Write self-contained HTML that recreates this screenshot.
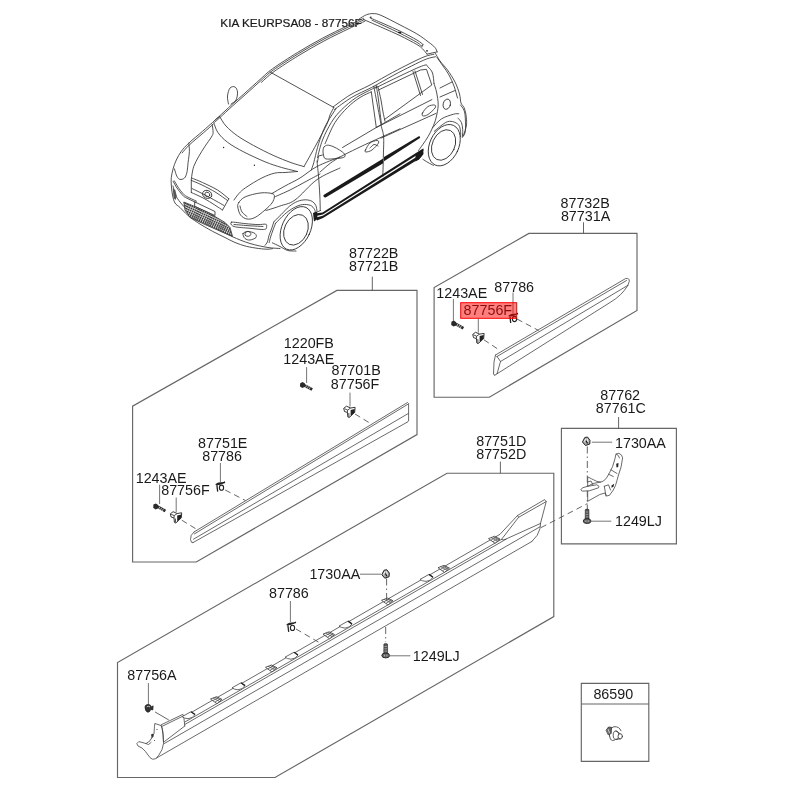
<!DOCTYPE html>
<html><head><meta charset="utf-8">
<style>
html,body{margin:0;padding:0;background:#fff;width:800px;height:800px;overflow:hidden}
svg{display:block;will-change:transform}
text{font-family:"Liberation Sans",sans-serif;font-size:14.3px;fill:#1a1a1a}
.b{fill:none;stroke:#666;stroke-width:1.15}
.l{fill:none;stroke:#555;stroke-width:0.9}
.ld{fill:none;stroke:#666;stroke-width:0.9}
.d{fill:none;stroke:#555;stroke-width:0.9;stroke-dasharray:6 4}
.dd{fill:none;stroke:#555;stroke-width:0.9;stroke-dasharray:7 3 1.5 3}
.p{fill:none;stroke:#444;stroke-width:0.8;stroke-linejoin:round;stroke-linecap:round}
.c{fill:none;stroke:#333;stroke-width:0.8;stroke-linejoin:round;stroke-linecap:round}
</style></head>
<body>
<svg width="800" height="800" viewBox="0 0 800 800">
<!-- title -->
<text x="220.3" y="26.8" style="font-size:10.6px;fill:#1a1a1a;stroke:#1a1a1a;stroke-width:0.2" textLength="141.5" lengthAdjust="spacingAndGlyphs" id="title">KIA KEURPSA08 - 87756F</text>

<!-- BOX 1: 87732B -->
<path class="b" d="M434.1,397.2 L434.1,287.6 L528.9,233.4 L637,233.4 L637,310.5 L489.3,397.2 Z"/>
<path class="l" d="M583.5,222.3 V233.4"/>
<text x="560.5" y="207.6">87732B</text>
<text x="560.9" y="220.6">87731A</text>

<!-- BOX 2: 87722B -->
<path class="b" d="M132.6,562 L132.6,406.2 L336.9,290.4 L417,290.4 L417,434.6 L196.3,562 Z"/>
<path class="l" d="M372.3,276.6 V290.4"/>
<text x="349.1" y="257.9">87722B</text>
<text x="349.1" y="271.2">87721B</text>

<!-- BOX 3: 87762 -->
<path class="b" d="M561.4,428.3 H676.4 V543.8 H561.4 Z"/>
<path class="l" d="M618.6,417 V428.3"/>
<text x="600.3" y="400">87762</text>
<text x="595.8" y="412.8">87761C</text>

<!-- BOX 4: 87751D -->
<path class="b" d="M117.5,777.5 L117.5,662.5 L447,473.2 L553.8,473.2 L553.8,616.6 L275,777.5 Z"/>
<path class="l" d="M500.4,461.6 V473.2"/>
<text x="476.2" y="445.7">87751D</text>
<text x="476.2" y="459.4">87752D</text>

<!-- BOX 5: 86590 -->
<path class="b" d="M581.3,683.4 H648.8 V761.3 H581.3 Z M581.3,704 H648.8"/>
<text x="593.4" y="698.5">86590</text>

<!-- labels box 1 -->
<text x="436.3" y="298.1">1243AE</text>
<text x="494.3" y="291.8">87786</text>
<!-- labels box 2 -->
<text x="283.8" y="348.2">1220FB</text>
<text x="283.3" y="363.7">1243AE</text>
<text x="331.4" y="375.1">87701B</text>
<text x="330.8" y="389.4">87756F</text>
<text x="198.1" y="447.7">87751E</text>
<text x="202.2" y="461.2">87786</text>
<text x="135.7" y="482.8">1243AE</text>
<text x="161.2" y="495.3">87756F</text>
<!-- labels box 3 -->
<text x="615" y="447.7">1730AA</text>
<text x="615" y="525.9">1249LJ</text>
<!-- labels box 4 -->
<text x="309.4" y="579.4">1730AA</text>
<text x="269" y="598.4">87786</text>
<text x="412.8" y="661">1249LJ</text>
<text x="127.3" y="679.8">87756A</text>


<defs>
<pattern id="mesh" width="2.4" height="2.4" patternUnits="userSpaceOnUse" patternTransform="rotate(25)"><rect width="2.4" height="2.4" fill="#ddd"/><path d="M0,0 L2.4,2.4 M2.4,0 L0,2.4" stroke="#333" stroke-width="0.75"/></pattern>
<g id="clip">
  <path d="M-0.5,1.8 L2.3,-0.3 L6.4,1.5 L10.9,0.8 L10.5,5.8 L8,8.3 L5,11 L3.6,10.4 L3.2,6 L0.3,5 Z" fill="#fff" stroke="#222" stroke-width="0.9" stroke-linejoin="round"/>
  <path d="M6.4,3.4 L10.5,2.4 L10.4,5.8 L8,8.3 L6.4,9.2 Z" fill="#222"/>
  <path d="M0.3,2.2 L3.4,3.6 L6.4,1.5 M3.4,3.6 L3.2,6 M4.6,6.5 L4.8,10.5" fill="none" stroke="#222" stroke-width="0.8"/>
</g>
<g id="clip2">
  <path d="M0.2,2.8 L3,1.3 L8,0.8 L9.6,0 L9.9,1.6 L4,3.6 L0.5,3.9 Z" fill="#222"/>
  <path d="M1.6,3.8 L2.4,10.4" stroke="#222" stroke-width="1.3" fill="none"/>
  <ellipse cx="6.2" cy="6.4" rx="2.1" ry="2.6" fill="none" stroke="#222" stroke-width="1.1"/>
</g>
<g id="bolt">
  <path d="M0.2,1.2 L2.6,0 L5,1.6 L5,4.8 L2.4,6 L0,4.4 Z" fill="#2a2a2a"/>
  <path d="M4.6,3.4 L12.2,7.6" stroke="#2a2a2a" stroke-width="2.8" fill="none"/>
  <path d="M6.6,3.4 L5.6,5.4 M8.4,4.4 L7.4,6.4 M10.2,5.4 L9.2,7.4" stroke="#fff" stroke-width="0.7" fill="none"/>
</g>
<g id="vbolt">
  <path d="M-1.8,-1.2 Q0,-2.2 1.8,-1.2 L1.9,8.6 L-1.9,8.6 Z" fill="#555" stroke="#222" stroke-width="0.6"/>
  <path d="M-1.3,1.2 H1.3 M-1.3,3.6 H1.3 M-1.3,6 H1.3" stroke="#bbb" stroke-width="0.7"/>
  <ellipse cx="0" cy="10.3" rx="3.9" ry="2.4" fill="#666" stroke="#222" stroke-width="0.9"/>
  <path d="M-1.2,9.5 L-1.2,11.2 M1.2,9.5 L1.2,11.2" stroke="#ddd" stroke-width="0.6"/>
</g>
<g id="nut">
  <path d="M-3.8,0.7 L-1.5,-3.8 L1.2,-4.3 L3.7,-1 L3.5,2.7 L-0.8,4.2 Z" fill="#aaa" stroke="#222" stroke-width="1" stroke-linejoin="round"/>
  <path d="M-2.2,0.5 L-0.6,-2.4 M0.8,-2.6 L1.8,0.8" stroke="#fff" stroke-width="0.9"/>
  <path d="M-0.2,-0.5 L1.2,2.2" stroke="#111" stroke-width="1.1"/>
</g>
<g id="mush">
  <path d="M-3.8,-1.5 Q-3.5,-4 -0.5,-4 Q2.2,-3.8 2.5,-1.5 L4.3,-2.5 L4,1.5 L2,1 Q1,3.8 -1,3.8 Q-3.8,3 -3.8,-1.5 Z" fill="#333" stroke="#222" stroke-width="0.8"/>
  <path d="M-2,-1.5 Q-0.5,-2.8 1.2,-1.5" fill="none" stroke="#fff" stroke-width="0.7"/>
</g>
<g id="tabr">
  <path d="M-5.5,0.8 L0.5,-1.5 L6,1.2 L1,5.5 Z" fill="#fff" stroke="#333" stroke-width="0.8" stroke-linejoin="round"/>
  <path d="M-3,-0.2 L3.5,3.2 M-0.8,-0.9 L5,2 M-3.2,2.4 L2.8,-0.8 M-1,3.8 L4.6,0.6" stroke="#444" stroke-width="0.7"/>
</g>
<g id="tabo">
  <path d="M-7,2.9 L2,-2.1 L6,0.7 Q4,4.6 -1,4.9 Q-5,4.6 -7,2.9 Z" fill="#fff" stroke="#444" stroke-width="0.8" stroke-linejoin="round"/>
  <path d="M2,-2.1 L6,0.7" stroke="#222" stroke-width="1.4"/>
</g>
</defs>

<!--CAR-START-->
<g class="car" fill="none" stroke="#333" stroke-width="0.85" stroke-linejoin="round" stroke-linecap="round">
<path d="M214.0,121.0 C214.8,120.2 216.0,119.2 219.0,116.5 C222.0,113.8 227.7,108.4 232.0,104.5 C236.3,100.6 240.3,97.2 245.0,93.0 C249.7,88.8 255.4,83.5 260.0,79.5 C264.6,75.5 266.2,73.3 272.5,68.8 C278.8,64.3 289.2,57.6 297.5,52.5 C305.8,47.4 314.2,42.7 322.5,38.2 C330.8,33.8 340.7,29.1 347.5,25.8 C354.3,22.5 360.8,19.6 363.5,18.3"/>
<path d="M214.7,122.3 C215.5,121.5 216.7,120.5 219.7,117.8 C222.7,115.0 228.4,109.7 232.7,105.8 C237.0,101.9 241.0,98.5 245.7,94.3 C250.4,90.1 256.1,84.8 260.7,80.8 C265.3,76.8 266.9,74.6 273.2,70.1 C279.4,65.6 289.9,58.9 298.2,53.8 C306.5,48.7 314.9,44.0 323.2,39.5 C331.5,35.0 341.4,30.4 348.2,27.1 C355.0,23.8 361.5,20.9 364.2,19.6"/>
<path d="M261.5,82.3 C263.6,80.5 267.8,76.1 274.0,71.6 C280.2,67.1 290.7,60.4 299.0,55.3 C307.3,50.2 315.7,45.5 324.0,41.0 C332.3,36.5 342.2,31.9 349.0,28.6 C355.8,25.3 362.3,22.4 365.0,21.1"/>
<path d="M219.5,116.3 C220.6,117.9 223.0,122.8 226.0,126.0 C229.0,129.2 232.8,132.6 237.4,135.8 C242.0,139.1 247.6,142.2 253.6,145.5 C259.6,148.8 266.9,152.5 273.1,155.3 C279.3,158.2 285.9,160.7 291.0,162.6 C296.1,164.5 301.8,165.9 304.0,166.6"/>
<path d="M213.8,122.8 C214.5,124.4 215.6,129.2 217.9,132.5 C220.2,135.8 223.3,139.1 227.6,142.3 C231.9,145.6 237.7,148.8 243.9,152.0 C250.1,155.2 258.8,159.2 265.0,161.8 C271.2,164.4 276.4,165.9 281.3,167.4 C286.2,168.9 291.6,170.0 294.3,170.7 C297.0,171.4 297.0,171.4 297.5,171.5"/>
<path d="M333.8,107.5 C333.2,108.8 331.2,112.2 330.0,115.0 C328.8,117.8 329.1,119.4 326.8,124.4 C324.5,129.4 319.8,138.0 316.0,145.0 C312.2,152.0 306.0,163.0 304.0,166.6"/>
<path d="M336.0,108.5 C334.6,110.8 329.8,118.0 327.5,122.0 C325.2,126.0 324.2,128.2 322.5,132.5 C320.8,136.8 318.9,142.5 317.5,147.5 C316.1,152.5 314.8,158.8 313.8,162.5 C312.8,166.2 311.7,168.8 311.3,170.0"/>
<path d="M333.1,106.9 C335.9,104.9 343.9,98.7 350.0,95.0 C356.1,91.3 362.9,88.8 370.0,85.0 C377.1,81.2 385.8,76.1 392.5,72.5 C399.2,68.9 404.6,66.2 410.0,63.5 C415.4,60.8 421.0,58.0 425.0,56.5 C429.0,55.0 432.5,54.6 434.0,54.2"/>
<path d="M334.6,109.4 C337.4,107.4 345.4,101.2 351.5,97.5 C357.6,93.8 364.4,91.2 371.5,87.5 C378.6,83.8 387.3,78.6 394.0,75.0 C400.7,71.4 406.1,68.7 411.5,66.0 C416.9,63.3 422.5,60.5 426.5,59.0 C430.5,57.5 434.0,57.1 435.5,56.7"/>
<path d="M359.5,18.7 C360.6,18.1 364.1,15.7 366.3,14.8 C368.6,14.0 370.6,13.5 373.0,13.6 C375.4,13.7 376.4,13.4 380.9,15.3 C385.4,17.2 394.0,21.8 400.0,24.9 C406.0,28.0 412.2,31.1 416.9,33.9 C421.6,36.7 425.1,39.5 428.1,41.8 C431.1,44.0 433.4,45.7 434.9,47.4 C436.4,49.1 436.7,51.1 437.1,51.9"/>
<path d="M370.0,17.8 C372.5,18.9 380.0,22.1 385.0,24.3 C390.0,26.5 394.7,28.5 400.0,31.1 C405.3,33.7 413.1,37.8 416.9,40.0 C420.7,42.2 422.0,43.8 423.0,44.5"/>
<path d="M372.0,20.2 C374.3,21.3 381.3,24.5 386.0,26.7 C390.7,28.9 394.9,30.7 400.0,33.3 C405.1,35.9 413.2,40.1 416.9,42.3 C420.6,44.5 421.1,45.8 422.0,46.5"/>
<path d="M363.5,19.5 C366.8,20.9 377.0,25.3 383.1,28.0 C389.2,30.7 394.4,32.9 400.0,35.6 C405.6,38.4 413.1,42.3 416.9,44.5 C420.6,46.7 420.8,47.2 422.5,48.8 C424.2,50.4 426.2,53.2 427.0,54.1"/>
<path d="M435.5,53.5 C436.2,54.8 438.0,58.2 440.0,61.0 C442.0,63.8 445.0,66.5 447.5,70.0 C450.0,73.5 453.0,78.0 455.0,82.0 C457.0,86.0 458.5,90.5 459.5,94.0 C460.5,97.5 460.2,100.8 461.0,103.0 C461.8,105.2 463.2,105.5 464.0,107.5 C464.8,109.5 465.6,112.1 466.0,115.0 C466.4,117.9 466.9,121.6 466.5,125.0 C466.1,128.4 464.0,133.7 463.5,135.4"/>
<path d="M437.0,57.5 C438.0,58.9 441.0,63.1 443.0,66.0 C445.0,68.9 447.2,71.7 449.0,75.0 C450.8,78.3 452.6,82.2 454.0,86.0 C455.4,89.8 456.9,96.0 457.5,98.0"/>
<path d="M460.5,105.0 C461.1,105.9 463.2,108.1 464.0,110.3 C464.8,112.5 465.1,114.6 465.3,118.1 C465.5,121.6 465.7,128.2 465.3,131.3 C464.9,134.4 463.5,135.6 463.1,136.5"/>
<path d="M212.2,124.4 C212.3,125.8 213.2,130.4 213.1,132.5 C213.0,134.6 212.8,134.7 211.4,137.0 C210.1,139.3 207.1,143.1 205.0,146.3 C202.9,149.5 200.7,153.0 198.8,156.3 C196.9,159.6 195.0,163.2 193.8,166.3 C192.7,169.4 192.3,172.7 191.9,175.0 C191.5,177.3 191.4,179.2 191.3,180.0"/>
<path d="M219.0,117.0 C217.9,117.9 215.2,120.1 212.5,122.5 C209.8,124.9 206.4,127.9 202.5,131.3 C198.6,134.7 192.3,139.8 188.8,143.1 C185.3,146.4 183.4,148.5 181.3,151.3 C179.2,154.1 177.7,157.1 176.3,160.0 C174.9,162.9 173.9,165.9 173.1,168.8 C172.3,171.7 171.6,174.8 171.3,177.5 C171.0,180.2 171.1,182.1 171.3,185.0 C171.5,187.9 171.9,192.0 172.5,195.0 C173.1,198.0 173.8,200.9 175.0,203.0 C176.2,205.1 177.9,205.5 180.0,207.5 C182.1,209.5 184.6,212.5 187.5,215.0 C190.4,217.5 193.3,219.8 197.5,222.5 C201.7,225.2 207.9,228.8 212.5,231.3 C217.1,233.8 221.2,235.6 225.0,237.5 C228.8,239.4 231.4,241.0 235.0,242.5 C238.6,244.0 242.3,245.3 246.3,246.3 C250.3,247.3 255.2,248.0 258.8,248.5 C262.4,249.0 265.7,249.2 268.0,249.2 C270.3,249.2 271.8,248.7 272.5,248.6"/>
<path d="M213.3,124.1 C211.6,125.6 207.2,129.5 203.3,132.9 C199.4,136.3 193.1,141.4 189.6,144.7 C186.1,148.0 183.4,151.5 182.1,152.9"/>
<path d="M188.8,143.1 C188.9,144.5 189.5,148.1 189.4,151.3 C189.3,154.5 188.5,159.0 188.1,162.5 C187.7,166.0 187.5,169.9 186.9,172.5 C186.3,175.1 185.6,176.9 184.4,178.1 C183.2,179.2 181.2,179.7 180.0,179.4 C178.8,179.1 177.8,178.1 176.9,176.3 C176.0,174.5 174.8,170.1 174.4,168.8"/>
<path d="M173.0,186.0 C173.5,187.7 174.4,192.8 176.0,196.0 C177.6,199.2 180.2,202.3 182.5,205.0 C184.8,207.7 187.1,209.7 190.0,212.0 C192.9,214.3 195.8,216.3 200.0,219.0 C204.2,221.7 209.7,225.1 215.0,228.0 C220.3,230.9 226.2,233.9 232.0,236.5 C237.8,239.1 244.0,241.7 250.0,243.5 C256.0,245.3 263.0,246.7 268.0,247.5 C273.0,248.3 278.0,248.3 280.0,248.5"/>
<path d="M191.9,178.1 C193.7,178.8 198.2,180.5 202.5,182.5 C206.8,184.5 213.1,187.3 217.5,190.0 C221.9,192.7 226.9,197.3 228.8,198.8"/>
<path d="M191.5,180.5 C193.2,181.2 197.9,183.0 202.0,185.0 C206.1,187.0 211.8,189.9 216.0,192.5 C220.2,195.1 225.6,199.2 227.5,200.5"/>
<path d="M191.3,192.5 C193.6,193.6 199.8,196.1 205.0,199.0 C210.2,201.9 219.6,208.2 222.5,210.0"/>
<path d="M192.0,188.5 C194.3,189.7 200.7,192.7 206.0,195.5 C211.3,198.3 221.0,203.8 224.0,205.5"/>
<path d="M173.1,181.3 C173.8,182.4 175.5,185.8 177.0,188.0 C178.5,190.2 180.5,192.8 181.9,194.4 C183.3,196.0 183.2,196.2 185.6,197.5 C187.9,198.8 194.3,201.7 196.0,202.5"/>
<path d="M174.3,180.8 C175.0,181.9 176.8,185.2 178.2,187.3 C179.6,189.4 181.4,191.8 182.8,193.3 C184.2,194.8 184.2,195.1 186.5,196.4 C188.8,197.7 194.8,200.4 196.5,201.2"/>
<path d="M238.8,202.5 C239.8,200.9 241.7,198.8 244.0,197.5 C246.3,196.2 249.5,195.3 252.5,194.5 C255.5,193.7 258.8,193.0 262.0,192.8 C265.2,192.6 269.9,192.9 272.0,193.5 C274.1,194.1 274.4,194.9 274.4,196.5 C274.4,198.1 273.6,200.8 272.0,203.0 C270.4,205.2 267.8,207.6 265.0,210.0 C262.2,212.4 258.0,216.0 255.0,217.5 C252.0,219.0 249.4,219.4 247.0,219.0 C244.6,218.6 242.0,217.0 240.5,215.0 C239.0,213.0 238.1,209.1 237.8,207.0 C237.5,204.9 237.8,204.1 238.8,202.5 Z"/>
<path d="M240.0,206.0 C240.3,207.0 240.8,210.2 242.0,212.0 C243.2,213.8 246.2,215.8 247.0,216.5"/>
<path d="M243.0,233.5 C243.5,232.3 246.0,231.5 248.0,231.5 C250.0,231.5 253.7,232.5 255.0,233.5 C256.3,234.5 256.8,236.4 256.0,237.5 C255.2,238.6 251.8,239.8 250.0,240.0 C248.2,240.2 246.2,239.6 245.0,238.5 C243.8,237.4 242.5,234.7 243.0,233.5 Z"/>
<path d="M245.5,235.5 A3,2.5 0 1,1 245.6,235.6 Z"/>
<path d="M231.5,222.2 C233.3,221.7 240.6,223.2 245.0,223.6 C249.4,224.0 254.6,224.5 258.0,224.6 C261.4,224.7 264.1,223.9 265.5,224.2 C266.9,224.5 266.8,225.3 266.6,226.2 C266.4,227.1 267.3,229.1 264.5,229.4 C261.7,229.8 255.1,228.8 250.0,228.3 C244.9,227.8 237.1,227.5 234.0,226.5 C230.9,225.5 229.7,222.7 231.5,222.2 Z"/>
<path d="M234.0,224.5 C236.7,224.7 245.2,225.5 250.0,225.8 C254.8,226.1 260.8,226.4 263.0,226.5"/>
<path d="M297.5,171.5 C295.4,171.7 288.8,172.2 285.0,172.5 C281.2,172.8 278.7,172.2 274.8,173.1 C270.9,174.0 266.7,175.6 261.8,178.0 C256.9,180.4 249.3,185.2 245.5,187.8 C241.7,190.4 240.9,191.4 239.0,193.4 C237.1,195.4 234.8,198.9 234.0,200.0"/>
<path d="M272.0,193.5 C274.2,192.2 280.3,188.6 285.0,186.0 C289.7,183.4 294.7,181.2 300.0,178.0 C305.3,174.8 310.3,170.0 317.0,166.5 C323.7,163.0 336.2,158.5 340.0,156.9"/>
<path d="M274.5,197.0 C277.1,195.8 284.9,192.5 290.0,190.0 C295.1,187.5 300.0,184.7 305.0,182.0 C310.0,179.3 317.5,175.3 320.0,174.0"/>
<path d="M266.0,210.5 C268.3,209.8 275.2,207.8 280.0,206.0 C284.8,204.2 288.8,204.4 295.0,200.0 C301.2,195.6 309.5,184.9 317.0,179.6 C324.5,174.3 336.2,169.9 340.0,168.0"/>
<path d="M273.9,221.7 C275.1,220.5 278.7,217.0 281.3,214.4 C283.9,211.8 286.7,208.5 289.4,206.3 C292.1,204.1 294.8,202.5 297.5,201.4 C300.2,200.3 303.2,199.8 305.7,199.8 C308.1,199.8 310.5,200.5 312.2,201.4 C313.9,202.3 315.0,203.8 315.8,205.4 C316.6,207.0 316.8,210.2 317.0,211.1"/>
<path d="M275.6,223.3 C277.1,221.8 281.5,217.0 284.5,214.4 C287.5,211.8 290.5,209.5 293.5,207.9 C296.5,206.3 299.6,205.0 302.4,204.6 C305.2,204.2 308.5,204.6 310.5,205.4 C312.5,206.2 313.8,208.1 314.6,209.5 C315.4,210.9 315.3,212.9 315.4,213.6"/>
<path d="M273.9,221.7 C273.5,222.9 272.3,226.7 271.5,229.0 C270.7,231.3 269.7,233.3 269.0,235.5 C268.3,237.7 268.1,240.4 267.4,242.0 C266.7,243.6 265.4,244.8 265.0,245.3"/>
<path d="M275.6,223.3 C275.2,224.4 273.8,227.7 273.0,230.0 C272.2,232.3 271.2,234.9 270.6,237.0 C270.0,239.1 269.4,241.6 269.2,242.5"/>
<path d="M272.3,242.8 C273.6,243.4 277.4,245.2 280.0,246.5 C282.6,247.8 285.1,249.8 287.8,250.5 C290.5,251.2 294.6,250.9 296.0,251.0"/>
<path d="M317.0,161.0 C317.2,163.3 317.9,169.3 318.4,175.0 C318.9,180.7 319.5,189.1 319.8,195.0 C320.1,200.9 320.2,208.0 320.3,210.6"/>
<path d="M317.5,157.5 C318.3,154.6 320.2,145.8 322.5,140.0 C324.8,134.2 328.2,127.5 331.3,122.5 C334.4,117.5 337.1,114.2 341.3,110.0 C345.5,105.8 351.1,101.0 356.3,97.5 C361.5,94.0 369.0,90.7 372.5,88.8 C376.0,86.9 376.7,86.7 377.5,86.3"/>
<path d="M325.0,143.8 C326.7,140.2 331.2,128.6 335.0,122.5 C338.8,116.5 343.3,111.7 347.5,107.5 C351.7,103.3 356.0,100.1 360.0,97.5 C364.0,94.9 369.4,92.8 371.3,91.9"/>
<path d="M373.8,86.3 C374.6,90.7 377.6,105.8 378.8,112.5 C380.1,119.2 380.5,122.3 381.3,126.3 C382.1,130.3 383.2,131.5 383.6,136.3 C384.0,141.1 383.5,148.3 383.4,155.0 C383.3,161.7 382.9,172.8 382.8,176.3"/>
<path d="M376.3,85.6 C376.7,88.0 377.8,94.7 378.5,100.0 C379.2,105.3 380.1,113.5 380.6,117.5 C381.1,121.5 381.4,122.9 381.5,124.0"/>
<path d="M378.1,87.5 C378.6,89.6 380.2,95.9 381.0,100.0 C381.8,104.1 382.3,108.5 383.0,112.0 C383.7,115.5 384.7,119.8 385.0,121.3"/>
<path d="M375.5,88.0 C379.6,86.0 392.0,79.8 400.0,76.0 C408.0,72.2 418.8,67.0 423.5,65.5 C428.2,64.0 426.5,65.8 428.0,67.0 C429.5,68.2 431.5,70.2 432.5,73.0 C433.5,75.8 433.8,81.8 434.0,83.5"/>
<path d="M434.0,83.5 C434.4,84.9 435.8,88.4 436.5,92.0 C437.2,95.6 438.3,100.7 438.2,105.0 C438.1,109.3 436.9,114.3 436.0,118.1 C435.1,121.9 433.8,124.7 432.5,127.8 C431.2,130.9 429.7,133.7 428.1,136.5 C426.5,139.3 424.5,142.1 422.9,144.4 C421.3,146.7 419.2,149.5 418.5,150.5"/>
<path d="M320.0,172.0 C322.5,170.0 328.3,164.2 335.0,160.0 C341.7,155.8 349.2,152.2 360.0,147.0 C370.8,141.8 393.3,131.8 400.0,128.8"/>
<path d="M365.5,150.0 C366.2,148.5 368.1,144.6 370.0,143.0 C371.9,141.4 375.6,140.5 377.0,140.5 C378.4,140.5 379.3,141.4 378.5,143.0 C377.7,144.6 374.1,148.5 372.0,150.0 C369.9,151.5 367.1,152.0 366.0,152.0 C364.9,152.0 364.8,151.5 365.5,150.0 Z"/>
<path d="M422.5,113.0 C423.3,111.4 426.0,107.8 428.0,106.5 C430.0,105.2 433.3,104.8 434.5,105.0 C435.7,105.2 436.1,106.4 435.0,108.0 C433.9,109.6 430.0,113.2 428.0,114.5 C426.0,115.8 423.9,116.2 423.0,116.0 C422.1,115.8 421.7,114.6 422.5,113.0 Z"/>
<path d="M370.0,148.0 C370.7,147.4 372.7,144.8 374.0,144.5 C375.3,144.2 377.3,145.8 378.0,146.0"/>
<path d="M324.0,147.0 C324.8,146.0 326.0,145.3 327.5,145.2 C329.0,145.1 331.0,145.7 333.0,146.5 C335.0,147.3 337.6,148.8 339.5,150.0 C341.4,151.2 343.8,152.8 344.5,154.0 C345.2,155.2 345.8,156.7 343.5,157.5 C341.2,158.3 334.1,158.8 331.0,159.0 C327.9,159.2 326.2,159.2 325.0,158.5 C323.8,157.8 323.8,156.2 323.5,155.0 C323.2,153.8 322.9,152.3 323.0,151.0 C323.1,149.7 323.2,148.0 324.0,147.0 Z"/>
<path d="M228.5,104.0 C228.3,102.7 227.2,98.7 227.5,96.0 C227.8,93.3 228.8,89.5 230.0,88.0 C231.2,86.5 233.8,86.3 235.0,87.0 C236.2,87.7 237.3,89.8 237.5,92.0 C237.7,94.2 237.1,98.0 236.0,100.0 C234.9,102.0 231.8,103.3 231.0,104.0"/>
<path d="M432.5,127.8 C434.0,126.3 437.8,121.3 441.3,119.0 C444.8,116.7 450.6,115.1 453.5,114.2 C456.4,113.3 457.9,113.9 458.8,113.8"/>
<path d="M457.9,118.1 C458.5,118.8 460.6,120.6 461.4,122.5 C462.2,124.4 462.5,127.0 462.7,129.5 C462.9,132.0 462.4,136.1 462.3,137.4"/>
<path d="M434.3,131.3 C436.2,129.8 442.6,124.1 445.6,122.5 C448.7,120.9 450.4,121.2 452.6,121.6 C454.8,122.0 457.5,123.5 458.8,125.1 C460.1,126.7 460.2,129.4 460.5,131.3 C460.8,133.2 460.5,135.6 460.5,136.5"/>
<path d="M422.9,159.3 C423.8,159.8 426.2,161.5 428.0,162.5 C429.8,163.5 432.5,164.9 433.4,165.4"/>
<path d="M270.0,72.0 L333.8,107.5"/>
<path d="M423.0,44.5 L422.0,46.5"/>
<path d="M427.0,54.1 L437.1,51.9"/>
<path d="M440.0,88.0 L452.0,82.0"/>
<path d="M440.0,97.0 L455.0,90.5"/>
<path d="M228.8,198.8 L222.5,210.0"/>
<path d="M191.3,180.0 L191.3,192.5"/>
<path d="M195.0,202.0 L215.0,211.5 L215.0,215.5 L195.0,206.5 Z"/>
<path d="M371.3,91.9 L376.3,127.5"/>
<path d="M342.5,147.5 L376.3,127.5 L400.0,113.8"/>
<path d="M378.5,90.0 L420.5,70.0 L426.5,69.3 L431.8,85.0 L384.5,119.5"/>
<path d="M413.0,71.5 L420.5,95.5"/>
<path d="M415.0,71.0 L422.5,94.5"/>
<path d="M376.3,127.5 L431.9,99.6"/>
<path d="M381.0,138.1 L436.0,113.4"/>
<path d="M322.5,155.0 L318.5,156.0 L317.5,162.0"/>
<path d="M320.3,210.6 L314.3,213.3"/>
<ellipse cx="446.8" cy="104.2" rx="3.6" ry="5.2" transform="rotate(15 446.8 104.2)"/>
<ellipse cx="207.2" cy="194.4" rx="4.8" ry="3.9" transform="rotate(25 207.2 194.4)"/>
<ellipse cx="207.3" cy="194.5" rx="2.6" ry="2.2" transform="rotate(25 207.3 194.5)"/>
<ellipse cx="296.3" cy="228.3" rx="14.3" ry="23" transform="rotate(25 296.3 228.3)"/>
<ellipse cx="296" cy="229.8" rx="11.5" ry="16" transform="rotate(25 296 229.8)"/>
<ellipse cx="444.3" cy="145.2" rx="14.5" ry="21.8" transform="rotate(25 444.3 145.2)"/>
<ellipse cx="443.6" cy="145" rx="11.2" ry="16" transform="rotate(25 443.6 145)"/>
</g>
<g fill="#1a1a1a"><circle cx="370.8" cy="17.3" r="0.8"/><path d="M398.5,31.5 L401.5,32.2 L401,33.6 L398,33 Z"/><circle cx="427" cy="50.8" r="0.9"/><path d="M172.8,188.5 L175.3,190 L176.6,195.5 L175.8,200 L173.6,198.2 Z" fill="#555"/><path d="M183.8,202 L196,207 L210,213.5 L225,222.5 L230,227.5 L232.5,236.3 L222,232 L205,224.5 L190,217.5 L185,210 Z" fill="url(#mesh)" stroke="#333" stroke-width="0.8"/><path d="M323.4,196.3 Q323,194.8 324.4,194.4 L383.2,158.6 L383.2,163.2 L325.6,197.6 Q324,197.6 323.4,196.3 Z"/><path d="M384,156.9 L418.8,136.3 Q420.6,136 420,138 L384,161.3 Z"/><path d="M314.5,213.6 L322.5,212.5 L417.5,151.9 L423.1,148.6 L423.3,151 L322.8,214.6 L316,216 Z"/><path d="M316,217.5 L322.8,215.8 L420,154.8 L423.3,152.2 L423.3,154.3 L420,158.3 L323,218 L317,220.5 Z"/><path d="M313,213 L317,211.5 L317.5,219 L314,221.5 Z"/><path d="M415.5,155.5 L423.5,148.5 L423.2,154 L419,159.5 L415.5,161.5 Z"/></g>
<circle cx="223.6" cy="147.5" r="0.7" fill="#222"/><circle cx="254.4" cy="165.3" r="0.7" fill="#222"/>
<!--CAR-END-->
<!-- ===== BOX 1 parts ===== -->
<g class="p">
  <path d="M495.5,355 L625.5,278.6 Q629.5,277.8 629.3,281.2 L627.8,285.5"/>
  <path d="M496.8,356.6 L626.5,280.5"/>
  <path d="M500.5,361.5 L627.6,285.5"/>
  <path d="M494.8,375.2 L610,302.5 Q622,295.5 627.8,285.5"/>
  <path d="M495.5,355 L494,362 L493.5,374.3 L494.8,375.2"/>
  <path d="M497,356.4 L500.5,361.5 L497,373.8"/>
</g>
<path class="ld" d="M478.3,318.7 V332.6"/>
<path class="ld" d="M453.4,298.9 V320.8"/>
<path class="ld" d="M513,292.6 V313.5"/>
<path class="d" d="M483.8,339.7 L500,350.5"/>
<path class="d" d="M517,319 L538.6,330.5"/>
<use href="#bolt" x="451.2" y="320.6"/>
<use href="#clip" x="473.2" y="332.6"/>
<use href="#clip2" x="508.3" y="312.6"/>

<!-- ===== BOX 2 parts ===== -->
<g class="p">
  <path d="M194,532 L407.5,402.5 L408.6,403.6 L408.6,421 L407,422.3"/>
  <path d="M194.4,533.9 L408,404.2"/>
  <path d="M193.5,539.2 L408.3,413.5"/>
  <path d="M193,542.6 L407,422.3"/>
  <path d="M194,532 Q190,535 190.5,539.5 Q191,543.5 193,542.6"/>
</g>
<path class="ld" d="M306.6,367.1 V383"/>
<path class="ld" d="M350,392.6 V406.5"/>
<path class="ld" d="M220.4,463 V482"/>
<path class="ld" d="M159.6,484.8 V504"/>
<path class="ld" d="M176.2,497.5 V512"/>
<use href="#bolt" x="300" y="382"/>
<use href="#bolt" x="153.2" y="503.4"/>
<use href="#clip" x="344.2" y="406.5"/>
<use href="#clip2" x="215.3" y="481.3"/>
<use href="#clip" x="170.8" y="512"/>
<path class="d" d="M355,414 L370.5,423.5"/>
<path class="d" d="M225.2,490 L245.5,500.5"/>
<path class="d" d="M181.8,520.2 L197,529.5"/>

<!-- ===== BOX 3 parts ===== -->
<use href="#nut" x="586.3" y="441.3"/>
<path class="ld" d="M591.8,442.2 H612.2"/>
<path class="dd" d="M587.3,446.5 V510"/>
<use href="#vbolt" x="587.1" y="510.8"/>
<path class="ld" d="M590.3,521.2 H611.3"/>
<path class="d" d="M541,527.6 L587.3,503.6"/>
<g class="p">
  <path fill="#fff" d="M616.3,454 L618.9,453.3 L621.5,455.1 L622.6,457.8 L621.1,466.8 L618.5,475 L617,480.3 L615.5,485.5 L613.3,490 L609.5,495.3 L606.5,496 L605,493 L599.8,494.5 L587.7,501.3 L587.7,476.9 L591.5,478.8 L596.8,481.4 L600.5,482.1 L603.5,481 L606.5,478 L609.5,472.8 L612.5,466.8 L614.8,459.3 Z"/>
  <path fill="#fff" d="M581,489.6 L582.5,487.8 L587.7,486.3 L596.8,484.8 L599,486.3 L598.5,487.8 L589.3,490.8 L582.5,491.1 Z"/>
  <path d="M611,469.8 L617,473.5 M608.8,474.3 L613.3,476.5 M587.7,486.3 L593,483.5 L600.5,482.1 M604.3,486.3 L606,496 M604.3,486.3 L608.5,484.8 L610.5,490 M616.3,454 Q619,455 619.5,458 M587.7,482 L591,481 L593,485"/>
</g>
<path d="M616.2,463.8 L618.5,463 L618.2,467 L616.5,467.5 Z M611.5,485.6 L614.2,483.8 L613.5,486.8 L611.5,487.8 Z" fill="#222"/>

<!--SILL-START-->
<g class="p">
<path d="M161.2,724.8 L182.8,714.4 M183.6,716.9 L500.0,534.3 L517.5,515.5 L544.6,499.6 L546.2,501.6 L540.6,523 L540,528.6 Q538.5,535.5 532.0,541.4"/>
<path d="M162,726.4 L183.2,716"/>
<path d="M183.6,715.2 L184.8,726"/>
<path d="M518.6,517.3 L546.2,501.6"/>
<path d="M184.8,722.1 L501.5,539.4 Q503.5,540.5 506,539 L540.6,523.4"/>
<path d="M517.5,515.5 L518.6,517.3 L501.5,539.4"/>
<path d="M184.8,724.5 L506.0,539.2"/>
<path d="M164.4,741.6 L184.8,726"/>
<path d="M164.0,743.7 L540.0,526.8"/>
<path d="M156.4,758.1 L532.0,541.4"/>
<path fill="#fff" d="M155.2,723.6 L161.2,725.6 L162.4,728.8 L163.2,734.4 L163.6,743.2 L162,749.6 L158.8,755.2 L155.6,758.8 L152.4,759.2 L150,757.6 L145.2,751.2 L142,748 L138,746 L136.8,743.6 L138.8,741.6 L142,742.4 L146,743.6 L150,740.8 L154,733.6 L154.4,727.2 Z"/>
<path d="M161.2,725.6 L162.2,729 L163,735 L163.4,742" />
<path d="M146,743.6 L148.5,744.5 L151,742.5 M151.8,738.2 L153,736" />
</g>
<circle cx="157" cy="729.5" r="0.6" fill="#333"/><circle cx="154.5" cy="740.5" r="0.5" fill="#333"/>
<path d="M151,734.5 L153.2,733.6 L153.6,736.5 L151.6,737.2 Z" fill="#333"/>
<use href="#tabr" x="216.0" y="698.2"/>
<use href="#tabr" x="271.0" y="666.5"/>
<use href="#tabr" x="328.5" y="633.3"/>
<use href="#tabr" x="387.0" y="599.5"/>
<use href="#tabr" x="443.5" y="566.9"/>
<use href="#tabr" x="494.0" y="537.8"/>
<use href="#tabo" x="189.0" y="713.8"/>
<use href="#tabo" x="239.0" y="684.9"/>
<use href="#tabo" x="292.0" y="654.3"/>
<use href="#tabo" x="346.0" y="623.2"/>
<use href="#tabo" x="427.0" y="576.5"/>
<!--SILL-END-->
<use href="#nut" x="385.6" y="574"/>
<path class="ld" d="M360,574.2 H381"/>
<path class="dd" d="M386.6,578.5 V600"/>
<path class="ld" d="M290.4,601 V622"/>
<use href="#clip2" x="286.3" y="621.5"/>
<path class="d" d="M296,629 L320,643"/>
<path class="dd" d="M385.7,627 V642"/>
<use href="#vbolt" x="385.7" y="645.2"/>
<path class="ld" d="M388.5,655.8 H410.4"/>
<path class="ld" d="M148.4,683 V705"/>
<use href="#mush" x="148.8" y="708.4"/>
<path class="l" d="M155,711.9 L168.8,720"/>

<!-- ===== BOX 5 part ===== -->
<g class="c" stroke-width="0.9">
  <path d="M609.5,736 Q608,729 613.9,726.7 Q619.5,726.3 621,730.8"/>
  <path d="M609.5,736 Q610,740.6 612.5,740.5 Q614.5,740.5 615.5,739.4"/>
  <ellipse cx="616" cy="735.2" rx="2.8" ry="4.2" fill="#fff"/>
  <ellipse cx="620.2" cy="736.3" rx="2.2" ry="2.6" fill="#fff"/>
  <path d="M616,731 L620,733.7 M616,739.4 L620.2,738.9"/>
  <path d="M606.3,730 L608.5,727 L611.5,727.3 L611.2,733.5 L608.5,734.6 Z" fill="#666"/>
  <path d="M608.2,729.5 L609.5,733" stroke="#fff" stroke-width="0.7"/>
</g>

<!-- red highlight -->

<text x="463.6" y="314.7">87756F</text>
<rect x="460.7" y="302.7" width="56" height="15.6" fill="rgba(255,0,0,0.5)" stroke="#f00" stroke-width="1"/>

</svg>
</body></html>
